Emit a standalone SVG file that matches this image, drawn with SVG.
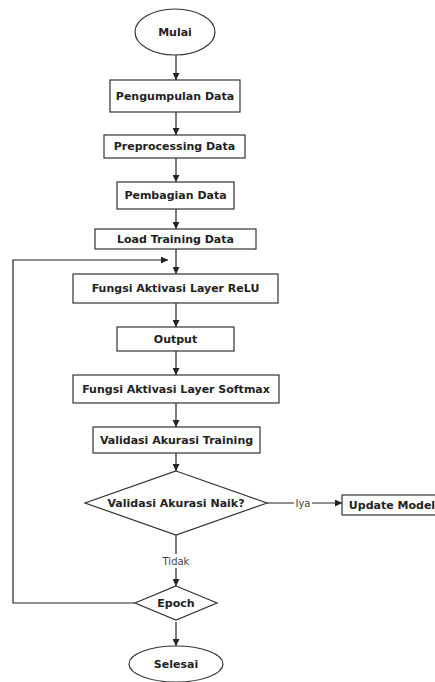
<svg xmlns="http://www.w3.org/2000/svg" width="435" height="682" viewBox="0 0 435 682">
<style>
.n{fill:#fff;stroke:#333;stroke-width:1.2}
.t{font-family:"DejaVu Sans",Verdana,sans-serif;font-weight:bold;font-size:11px;fill:#222;text-anchor:middle;dominant-baseline:central}
.l{font-family:"DejaVu Sans",Verdana,sans-serif;font-size:10px;fill:#444;text-anchor:middle;dominant-baseline:central}
.c{fill:none;stroke:#222;stroke-width:1.2}
</style>
<defs>
<marker id="a" viewBox="0 0 10 10" refX="10" refY="5" markerWidth="7" markerHeight="7" markerUnits="userSpaceOnUse" orient="auto"><path d="M0,0L10,5L0,10z" fill="#222"/></marker>
</defs>
<rect width="435" height="682" fill="#fff"/>
<g id="connectors">
<path class="c" d="M176,55V80" marker-end="url(#a)"/>
<path class="c" d="M176,112V135" marker-end="url(#a)"/>
<path class="c" d="M176,158V182" marker-end="url(#a)"/>
<path class="c" d="M176,209V229" marker-end="url(#a)"/>
<path class="c" d="M176,249V274" marker-end="url(#a)"/>
<path class="c" d="M176,303V327" marker-end="url(#a)"/>
<path class="c" d="M176,351V375" marker-end="url(#a)"/>
<path class="c" d="M176,403V427" marker-end="url(#a)"/>
<path class="c" d="M176,453V471" marker-end="url(#a)"/>
<path class="c" d="M267,503H294M312,503H342" marker-end="url(#a)"/>
<path class="c" d="M176,535V554M176,568V586" marker-end="url(#a)"/>
<path class="c" d="M135,603H13V260H168" marker-end="url(#a)"/>
<path class="c" d="M176,622V646" marker-end="url(#a)"/>
<text class="l" x="303" y="503">Iya</text>
<text class="l" x="176" y="561">Tidak</text>
</g>
<g id="mulai"><ellipse class="n" cx="175" cy="32" rx="40" ry="23"/><text class="t" x="175" y="32">Mulai</text></g>
<g id="pengumpulan"><rect class="n" x="110" y="80" width="130" height="32"/><text class="t" x="175" y="96">Pengumpulan Data</text></g>
<g id="preprocessing"><rect class="n" x="104" y="135" width="141" height="23"/><text class="t" x="174.5" y="146.5">Preprocessing Data</text></g>
<g id="pembagian"><rect class="n" x="117" y="182" width="117" height="27"/><text class="t" x="175.5" y="195.5">Pembagian Data</text></g>
<g id="load"><rect class="n" x="95" y="229" width="161" height="20"/><text class="t" x="175.5" y="239">Load Training Data</text></g>
<g id="relu"><rect class="n" x="73" y="274" width="205" height="29"/><text class="t" x="175.5" y="288.5">Fungsi Aktivasi Layer ReLU</text></g>
<g id="output"><rect class="n" x="117" y="327" width="117" height="24"/><text class="t" x="175.5" y="339">Output</text></g>
<g id="softmax"><rect class="n" x="73" y="375" width="206" height="28"/><text class="t" x="176" y="389">Fungsi Aktivasi Layer Softmax</text></g>
<g id="validasi"><rect class="n" x="93" y="427" width="167" height="26"/><text class="t" x="176.5" y="440">Validasi Akurasi Training</text></g>
<g id="naik"><path class="n" d="M176,471L267,503L176,535L85,503Z"/><text class="t" x="176" y="503">Validasi Akurasi Naik?</text></g>
<g id="update"><rect class="n" x="342" y="495" width="100" height="20"/><text class="t" x="392" y="505">Update Model</text></g>
<g id="epoch"><path class="n" d="M176,586L217,603L176,620L135,603Z"/><text class="t" x="176" y="603">Epoch</text></g>
<g id="selesai"><ellipse class="n" cx="176" cy="664" rx="47" ry="18"/><text class="t" x="176" y="664">Selesai</text></g>
</svg>
